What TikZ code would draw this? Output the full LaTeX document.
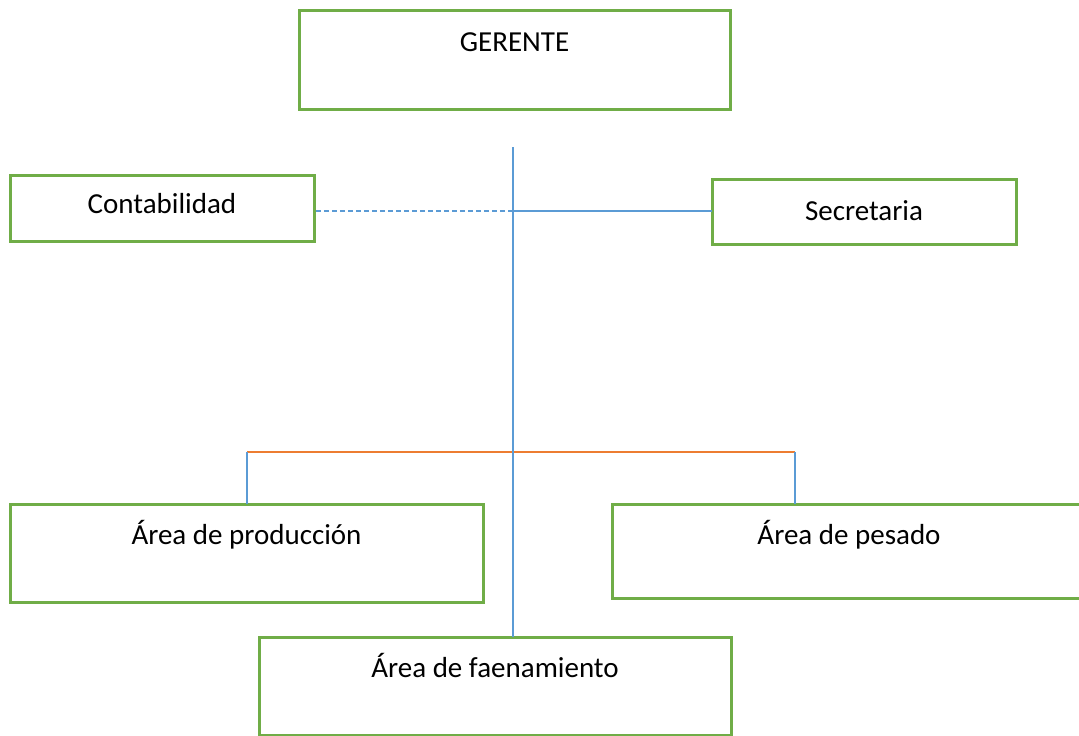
\documentclass[tikz,border=0pt]{standalone}
\usepackage{fontspec}
\setmainfont{Carlito}
\definecolor{boxgreen}{HTML}{70AD47}
\definecolor{lineblue}{HTML}{5B9BD5}
\definecolor{lineorange}{HTML}{ED7D31}
\begin{document}
\begin{tikzpicture}[x=1pt,y=-1pt,
  orgbox/.style={draw=boxgreen, line width=3pt, fill=white, inner sep=0pt, outer sep=0pt},
  toptext/.style={anchor=base, yshift=-40pt, font=\fontsize{29}{35}\selectfont, text=black},
  bl/.style={draw=lineblue, line width=1.3pt},
  orl/.style={draw=lineorange, line width=1.4pt}]
\useasboundingbox (0,0) rectangle (1079,736);
\clip (0,0) rectangle (1079,736);
% connector points
\coordinate (top) at (513,147);
\coordinate (jct) at (513,211);
\coordinate (bl) at (247,452);
\coordinate (br) at (795,452);
% boxes
\node[orgbox, minimum width=431pt, minimum height=99pt,
  label={[toptext, yshift=-1pt]north:GERENTE}] (ger) at (514.5,59.5) {};
\node[orgbox, minimum width=304pt, minimum height=66pt,
  label={[toptext, yshift=2pt]north:Contabilidad}] (cont) at (162,208) {};
\node[orgbox, minimum width=304pt, minimum height=65pt,
  label={[toptext, yshift=-1pt]north:Secretaria}] (sec) at (864,211.5) {};
\node[orgbox, minimum width=473pt, minimum height=98pt,
  label={[toptext]north:Área de producción}] (prod) at (246.5,553) {};
\node[orgbox, minimum width=474pt, minimum height=94pt,
  label={[toptext]north:Área de pesado}] (pes) at (849,551) {};
\node[orgbox, minimum width=472pt, minimum height=98pt,
  label={[toptext]north:Área de faenamiento}] (faen) at (495,686) {};
% lines
\draw[orl] (bl) -- (br);
\draw[bl] (bl) -- (bl |- prod.north);
\draw[bl] (br) -- (br |- pes.north);
\draw[bl] (top) -- (top |- faen.north);
\draw[bl, dash pattern=on 5pt off 3pt] ([xshift=2pt]cont.east |- jct) -- (jct);
\draw[bl] (jct) -- (sec.west |- jct);
\end{tikzpicture}
\end{document}
